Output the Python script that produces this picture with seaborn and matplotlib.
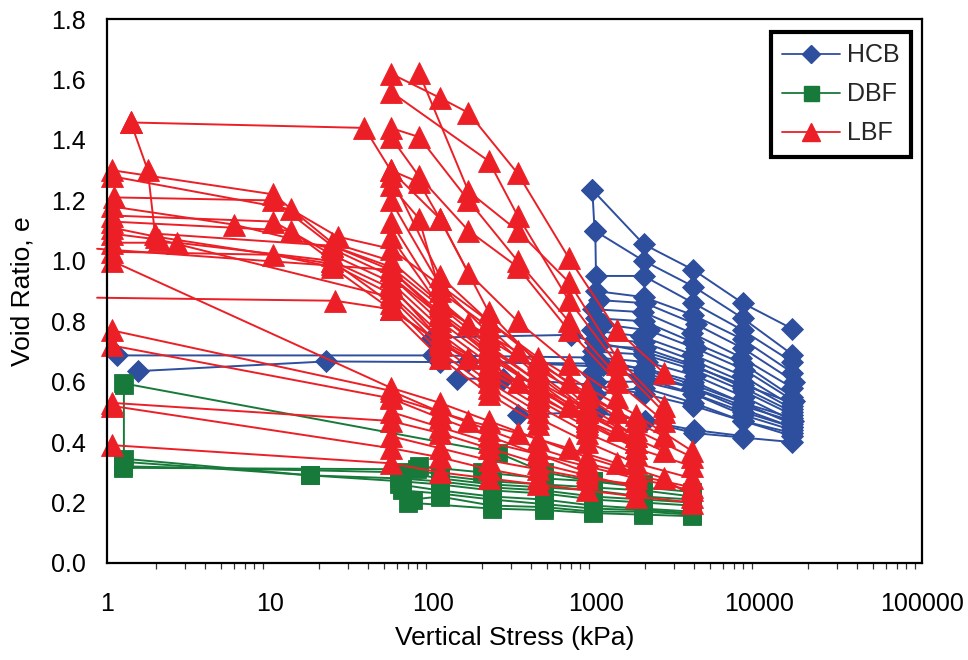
import matplotlib
matplotlib.use("Agg")
import matplotlib.pyplot as plt
from matplotlib.lines import Line2D
from matplotlib.ticker import FixedLocator, NullFormatter, FuncFormatter
import pandas as pd
import seaborn as sns

# ---------------------------------------------------------------
# Oedometer loading curves: vertical stress (kPa) vs void ratio e
# ---------------------------------------------------------------

# HCB tests
hcb_stress = [
    [950, 1960, 3960, 7950, 16000],
    [950, 980, 1960, 3960, 7950, 16000],
    [990, 1000, 1960, 3960, 7950, 16000],
    [1000, 1960, 3960, 7950, 16000],
    [1050, 2000, 4100, 8000, 16500],
    [960, 1950, 3900, 7800, 16000],
    [1000, 1960, 3960, 7950, 16000],
    [1100, 2100, 4100, 8100, 16500],
    [940, 1900, 3900, 7900, 16000],
    [1000, 1960, 3960, 7950, 16000],
    [1050, 2000, 4000, 8000, 16000],
    [960, 1960, 3960, 7950, 16000],
    [1000, 2050, 4050, 8100, 16200],
    [1100, 1960, 3960, 7950, 16000],
    [950, 1900, 3900, 7900, 16000],
    [1000, 1960, 3960, 7950, 16000],
    [980, 1960, 3960, 7950, 16000],
    [1000, 2000, 4000, 8000, 16000],
    [1.15, 100, 950, 1960, 3960, 7950, 16000],
    [1.55, 22, 110, 1000, 1960, 3960, 7950, 16000],
    [98, 700, 980, 1960, 3960, 7950, 16000],
    [140, 270, 950, 1960, 3960, 7950, 16000],
    [165, 1050, 2000, 4000, 8000, 16000],
    [330, 950, 2000, 4000, 8000],
]
hcb_void = [
    [1.235, 1.055, 0.97, 0.86, 0.775],
    [1.235, 1.10, 1.00, 0.915, 0.81, 0.69],
    [1.10, 0.95, 0.95, 0.86, 0.77, 0.665],
    [0.90, 0.88, 0.82, 0.74, 0.63],
    [0.87, 0.86, 0.79, 0.71, 0.60],
    [0.84, 0.83, 0.76, 0.68, 0.58],
    [0.81, 0.80, 0.73, 0.66, 0.55],
    [0.79, 0.77, 0.71, 0.64, 0.535],
    [0.77, 0.75, 0.69, 0.62, 0.52],
    [0.745, 0.73, 0.67, 0.60, 0.51],
    [0.72, 0.71, 0.655, 0.58, 0.50],
    [0.70, 0.69, 0.64, 0.57, 0.49],
    [0.68, 0.665, 0.62, 0.55, 0.47],
    [0.655, 0.645, 0.60, 0.53, 0.46],
    [0.63, 0.62, 0.58, 0.51, 0.45],
    [0.60, 0.60, 0.56, 0.49, 0.44],
    [0.56, 0.58, 0.53, 0.47, 0.42],
    [0.50, 0.47, 0.43, 0.415, 0.40],
    [0.687, 0.687, 0.68, 0.64, 0.59, 0.53, 0.48],
    [0.635, 0.667, 0.665, 0.66, 0.63, 0.58, 0.52, 0.47],
    [0.746, 0.755, 0.73, 0.70, 0.65, 0.59, 0.53],
    [0.61, 0.61, 0.59, 0.56, 0.52, 0.47, 0.43],
    [0.67, 0.65, 0.61, 0.56, 0.50, 0.45],
    [0.49, 0.50, 0.47, 0.44, 0.42],
]

# DBF tests
dbf_stress = [
    [1.25, 250, 480, 960, 1950, 3900],
    [1.27, 1.27, 17.6, 62, 110, 230, 480, 960, 1950, 3900],
    [1.25, 17.6, 65, 110, 230, 480, 960, 1950, 3900],
    [1.25, 65, 110, 230, 480, 960, 1950, 3900],
    [1.25, 80, 110, 230, 480, 960, 1950, 3900],
    [62, 110, 230, 480, 960, 1950, 3900],
    [65, 110, 230, 480, 960, 1950, 3900],
    [75, 110, 230, 480, 960, 1950, 3900],
    [70, 230, 480, 960, 1950, 3900],
    [82, 200, 480, 960, 1950],
]
dbf_void = [
    [0.595, 0.365, 0.30, 0.27, 0.25, 0.235],
    [0.59, 0.345, 0.29, 0.28, 0.27, 0.25, 0.24, 0.22, 0.21, 0.20],
    [0.335, 0.29, 0.27, 0.26, 0.24, 0.23, 0.21, 0.20, 0.19],
    [0.32, 0.30, 0.28, 0.26, 0.25, 0.24, 0.22, 0.21],
    [0.315, 0.31, 0.29, 0.27, 0.26, 0.25, 0.24, 0.22],
    [0.26, 0.24, 0.22, 0.21, 0.19, 0.18, 0.17],
    [0.24, 0.23, 0.21, 0.195, 0.18, 0.175, 0.165],
    [0.21, 0.22, 0.19, 0.185, 0.17, 0.17, 0.16],
    [0.20, 0.18, 0.175, 0.165, 0.16, 0.155],
    [0.32, 0.30, 0.28, 0.27, 0.26],
]

# LBF tests
lbf_stress = [
    [1.07, 10.5, 24, 55, 110, 220, 440, 880, 1760],
    [1.07, 13.5, 26, 55, 110, 220, 440, 880, 1760, 3900],
    [1.1, 10.5, 24, 55, 110, 220, 440, 880],
    [1.07, 6.0, 24, 55, 110, 220, 440, 880, 1760],
    [1.07, 10.5, 24, 55, 110, 220, 440, 880, 1760, 3900],
    [1.07, 13.5, 24, 55, 110, 220, 440, 880],
    [1.07, 2.0, 24, 55, 110, 220, 440, 880, 1760],
    [1.07, 2.1, 55, 110, 220, 440],
    [1.07, 2.7, 24, 55, 110, 220, 440, 880, 1760, 3900],
    [1.07, 10.5, 24, 55, 110, 220, 440],
    [1.07, 55, 110, 220, 440, 880, 1760],
    [1.07, 55, 110, 220, 440, 880, 1760, 3900],
    [1.07, 55, 110, 220, 440, 880],
    [1.07, 55, 110, 220, 440, 880, 1760],
    [1.07, 55, 110, 220, 440],
    [1.07, 55, 110, 220, 440, 880, 1760, 3900],
    [1.4, 38, 55, 110, 165, 330, 680, 1340],
    [1.4, 1.78, 1.97, 24, 55, 110, 220],
    [55, 110, 165, 330, 680, 1340, 2600],
    [82, 165, 330, 680, 1340, 2600],
    [55, 220, 330, 680, 1340, 2600],
    [55, 82, 165, 330, 680, 1340],
    [55, 82, 165, 330, 680, 1340, 2600],
    [55, 82, 110, 220, 440, 880, 1760],
    [55, 110, 220, 440, 880, 1760, 3900],
    [55, 82, 110, 220, 440, 880],
    [55, 110, 220, 440, 880, 1760],
    [55, 110, 165, 330, 680, 1340, 2600],
    [55, 110, 220, 440, 880],
    [55, 110, 220, 440, 880, 1760],
    [55, 110, 220, 440],
    [55, 110, 165, 330, 680, 1340, 2600],
    [55, 110, 220, 440, 880, 1760, 3900],
    [55, 110, 220, 440, 880, 1760],
    [55, 110, 165, 330, 680, 1340, 2600, 3900],
]
lbf_void = [
    [1.30, 1.22, 1.06, 1.00, 0.86, 0.74, 0.64, 0.55, 0.47],
    [1.28, 1.17, 1.08, 1.04, 0.92, 0.80, 0.68, 0.58, 0.49, 0.37],
    [1.21, 1.20, 1.05, 0.97, 0.83, 0.71, 0.60, 0.51],
    [1.18, 1.12, 1.04, 0.95, 0.80, 0.68, 0.58, 0.50, 0.42],
    [1.15, 1.13, 1.02, 0.93, 0.78, 0.66, 0.56, 0.46, 0.38, 0.32],
    [1.13, 1.10, 1.00, 0.91, 0.76, 0.64, 0.54, 0.45],
    [1.11, 1.08, 0.99, 0.89, 0.74, 0.62, 0.52, 0.43, 0.36],
    [1.09, 1.07, 0.88, 0.72, 0.60, 0.50],
    [1.06, 1.06, 1.00, 0.86, 0.70, 0.58, 0.48, 0.40, 0.33, 0.28],
    [1.03, 1.02, 0.98, 0.84, 0.68, 0.56, 0.46],
    [1.00, 0.58, 0.53, 0.47, 0.41, 0.35, 0.30],
    [0.77, 0.57, 0.50, 0.44, 0.38, 0.33, 0.29, 0.25],
    [0.72, 0.545, 0.48, 0.42, 0.36, 0.30],
    [0.53, 0.47, 0.43, 0.38, 0.33, 0.29, 0.25],
    [0.52, 0.38, 0.35, 0.31, 0.28],
    [0.39, 0.33, 0.30, 0.28, 0.26, 0.24, 0.22, 0.20],
    [1.458, 1.44, 1.30, 1.14, 0.96, 0.80, 0.66, 0.55],
    [1.458, 1.30, 1.09, 1.05, 0.98, 0.85, 0.75],
    [1.62, 1.54, 1.49, 1.29, 1.01, 0.77, 0.63],
    [1.623, 1.23, 1.10, 0.93, 0.68, 0.52],
    [1.56, 1.33, 1.15, 0.87, 0.66, 0.50],
    [1.44, 1.41, 1.20, 1.00, 0.80, 0.62],
    [1.41, 1.28, 1.10, 0.98, 0.77, 0.60, 0.47],
    [1.30, 1.26, 1.14, 0.83, 0.66, 0.52, 0.42],
    [1.28, 0.95, 0.80, 0.67, 0.55, 0.44, 0.35],
    [1.25, 1.14, 0.90, 0.78, 0.63, 0.51],
    [1.20, 0.92, 0.76, 0.62, 0.50, 0.40],
    [1.13, 0.87, 0.79, 0.70, 0.60, 0.50, 0.42],
    [1.08, 0.85, 0.72, 0.60, 0.48],
    [0.95, 0.82, 0.70, 0.58, 0.47, 0.38],
    [0.92, 0.74, 0.65, 0.55],
    [0.84, 0.73, 0.68, 0.60, 0.52, 0.44, 0.37],
    [0.50, 0.45, 0.40, 0.36, 0.32, 0.28, 0.24],
    [0.42, 0.38, 0.34, 0.31, 0.28, 0.26],
    [0.55, 0.50, 0.47, 0.43, 0.38, 0.33, 0.28, 0.22],
]

# LBF tests whose seating reading lies below 1 kPa (first reading left unmarked)
lbf_seat_stress = [
    [0.87, 55, 110, 220, 440, 880],
    [0.87, 25, 55, 110, 220, 440, 880, 1760],
]
lbf_seat_void = [
    [1.04, 0.97, 0.82, 0.69, 0.58, 0.48],
    [0.878, 0.868, 0.84, 0.73, 0.63, 0.55, 0.47, 0.40],
]

series_names = ["HCB", "DBF", "LBF"]
series_colors = {"HCB": "#2E4E9E", "DBF": "#187A3A", "LBF": "#EC1F26"}
series_markers = {"HCB": "D", "DBF": "s", "LBF": "^"}
series_msize = {"HCB": 11.0, "DBF": 13.5, "LBF": 16.0}


def long_table(name, stress, void):
    rows = []
    for i, (xs, es) in enumerate(zip(stress, void)):
        for j, (x, e) in enumerate(zip(xs, es)):
            rows.append({"stress": x, "void": e, "test": f"{name}-{i}", "step": j})
    return pd.DataFrame(rows)


layers = [
    ("HCB", long_table("HCB", hcb_stress, hcb_void), None),
    ("DBF", long_table("DBF", dbf_stress, dbf_void), None),
    ("LBF", long_table("LBFs", lbf_seat_stress, lbf_seat_void), slice(1, None)),
    ("LBF", long_table("LBF", lbf_stress, lbf_void), None),
]

sns.set_theme(style="white")
plt.rcParams["font.family"] = ["Liberation Sans", "DejaVu Sans"]

fig = plt.figure(figsize=(9.68, 6.6), dpi=100)
ax = fig.add_axes([0.1105, 0.147, 0.842, 0.824])
ax.set_xscale("log")

for name, table, every in layers:
    c = series_colors[name]
    sns.lineplot(
        data=table, x="stress", y="void", units="test",
        estimator=None, sort=False, ax=ax, color=c, linewidth=1.4,
        marker=series_markers[name], markersize=series_msize[name],
        markeredgecolor=c, markerfacecolor=c, markeredgewidth=0.6,
        markevery=every, clip_on=False, legend=False,
    )

ax.set_xlim(1, 100000)
ax.set_ylim(0, 1.8)

ax.xaxis.set_major_locator(FixedLocator([1, 10, 100, 1000, 10000, 100000]))
ax.xaxis.set_major_formatter(FuncFormatter(lambda v, p: f"{v:.0f}"))
minor = [m * 10 ** k for k in range(0, 5) for m in range(2, 10)]
ax.xaxis.set_minor_locator(FixedLocator(minor))
ax.xaxis.set_minor_formatter(NullFormatter())
ax.yaxis.set_major_locator(FixedLocator([i * 0.2 for i in range(10)]))
ax.yaxis.set_major_formatter(FuncFormatter(lambda v, p: f"{v:.1f}"))

ax.tick_params(axis="both", which="major", direction="out", length=7,
               width=1.0, color="#333333", labelsize=18, labelcolor="black")
ax.tick_params(axis="x", which="major", pad=14)
ax.tick_params(axis="y", which="major", pad=8)
ax.tick_params(axis="x", which="minor", direction="out", length=4,
               width=0.9, color="#333333", bottom=True)
ax.tick_params(axis="y", which="minor", left=False)

for side in ["left", "bottom", "top", "right"]:
    ax.spines[side].set_visible(True)
    ax.spines[side].set_color("black")
    ax.spines[side].set_linewidth(1.6)

ax.set_xlabel("Vertical Stress (kPa)", fontsize=19, labelpad=7, color="black")
ax.set_ylabel("Void Ratio, e", fontsize=19, labelpad=12, color="black")
ax.grid(False)

handles = [
    Line2D([], [], color=series_colors[n], linewidth=1.3,
           marker=series_markers[n], markersize=series_msize[n] * 0.8,
           markeredgecolor=series_colors[n], markerfacecolor=series_colors[n])
    for n in series_names
]
leg = ax.legend(handles, series_names, loc="upper left",
                bbox_to_anchor=(0.815, 0.976), borderaxespad=0,
                fontsize=18, frameon=True, fancybox=False, shadow=False,
                handlelength=2.3, handletextpad=0.3, borderpad=0.45,
                labelspacing=0.6)
frame = leg.get_frame()
frame.set_edgecolor("black")
frame.set_linewidth(3.0)
frame.set_facecolor("white")
frame.set_alpha(1.0)

fig.savefig("out.png", dpi=100, facecolor="white")
